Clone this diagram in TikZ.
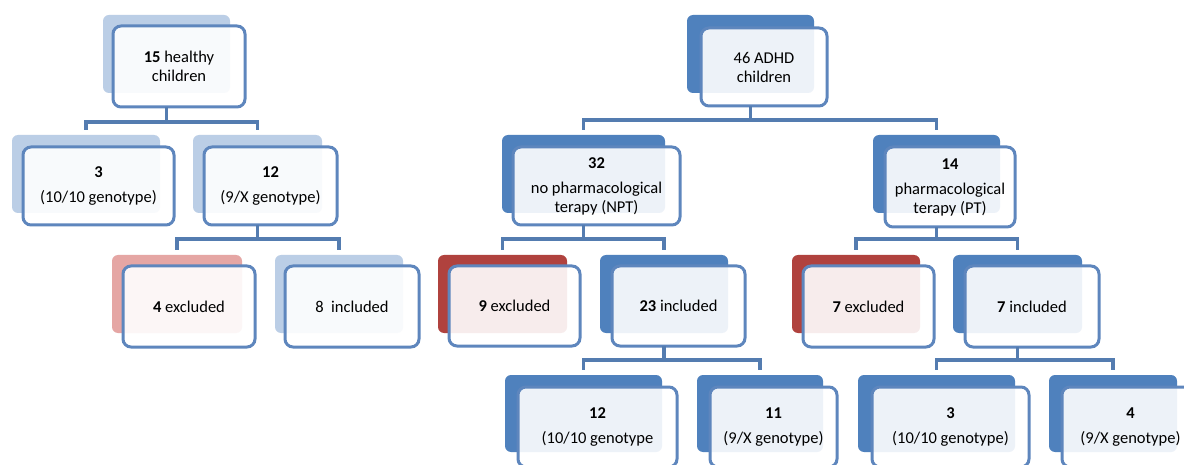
\documentclass[tikz,border=0pt]{standalone}
\usepackage{fontspec}
\setmainfont{Carlito}
\usepackage{tikz}

\definecolor{frameblue}{RGB}{94,134,189}
\definecolor{linkblue}{RGB}{84,124,176}
\definecolor{darkblue}{RGB}{79,129,189}
\definecolor{paleblue}{RGB}{187,206,230}
\definecolor{darkred}{RGB}{176,66,62}
\definecolor{palered}{RGB}{229,166,164}

\tikzset{
  backbox/.style={rounded corners=6pt, inner sep=0pt, outer sep=0pt, anchor=north west},
  frontbox/.style={rounded corners=8pt, draw=frameblue, line width=3pt, fill=white,
    fill opacity=0.9, text opacity=1, align=center, inner sep=0pt, outer sep=0pt,
    anchor=north west, font=\fontsize{16.5}{19}\selectfont},
  link/.style={draw=linkblue, line width=3.5pt}
}

\begin{document}
\begin{tikzpicture}[x=1pt, y=-1pt]
\useasboundingbox (0,0) rectangle (1184,465);
\clip (0,0) rectangle (1184,465);
\fill[white] (0,0) rectangle (1184,465);

% healthy children
\node[backbox, fill=paleblue, minimum width=127, minimum height=78] (healthybk) at (103,15) {};
\node[frontbox, minimum width=132, minimum height=81] (healthy) at (113,26) {\textbf{15} healthy\\children};
\node[backbox, fill=paleblue, minimum width=148, minimum height=78] (gAbk) at (12,135) {};
\node[frontbox, minimum width=151, minimum height=78] (gA) at (23,147) {\textbf{3}\\[6pt](10/10 genotype)};
\node[backbox, fill=paleblue, minimum width=129, minimum height=78] (gBbk) at (193,135) {};
\node[frontbox, minimum width=133, minimum height=78] (gB) at (204,147) {\textbf{12}\\[6pt](9/X genotype)};
\node[backbox, fill=palered, minimum width=130, minimum height=78] (hexcbk) at (112,255) {};
\node[frontbox, minimum width=132, minimum height=81] (hexc) at (123,266) {\textbf{4} excluded};
\node[backbox, fill=paleblue, minimum width=128, minimum height=78] (hincbk) at (275,255) {};
\node[frontbox, minimum width=134, minimum height=81] (hinc) at (285,266) {8\ \ included};

% ADHD children
\node[backbox, fill=darkblue, minimum width=127, minimum height=78] (adhdbk) at (687,15) {};
\node[frontbox, minimum width=126, minimum height=78] (adhd) at (701,28) {46 ADHD\\children};
\node[backbox, fill=darkblue, minimum width=163, minimum height=78] (nptbk) at (502,135) {};
\node[frontbox, minimum width=167, minimum height=78] (npt) at (513,147) {\textbf{32}\\[6pt]no pharmacological\\terapy (NPT)};
\node[backbox, fill=darkblue, minimum width=127, minimum height=78] (ptbk) at (873,135) {};
\node[frontbox, minimum width=130, minimum height=80] (pt) at (885,147) {\textbf{14}\\[6pt]pharmacological\\terapy (PT)};

\node[backbox, fill=darkred, minimum width=129, minimum height=78] (nexcbk) at (438,255) {};
\node[frontbox, minimum width=131, minimum height=80] (nexc) at (449,266) {\textbf{9} excluded};
\node[backbox, fill=darkblue, minimum width=128, minimum height=78] (nincbk) at (600,255) {};
\node[frontbox, minimum width=133, minimum height=80] (ninc) at (612,266) {\textbf{23} included};
\node[backbox, fill=darkred, minimum width=128, minimum height=78] (pexcbk) at (792,255) {};
\node[frontbox, minimum width=131, minimum height=81] (pexc) at (803,266) {\textbf{7} excluded};
\node[backbox, fill=darkblue, minimum width=129, minimum height=78] (pincbk) at (953,255) {};
\node[frontbox, minimum width=134, minimum height=81] (pinc) at (965,266) {\textbf{7} included};

\node[backbox, fill=darkblue, minimum width=157, minimum height=77] (nAbk) at (505,375) {};
\node[frontbox, minimum width=159, minimum height=80] (nA) at (518,387) {\textbf{12}\\[6pt](10/10 genotype};
\node[backbox, fill=darkblue, minimum width=126, minimum height=77] (nBbk) at (697,375) {};
\node[frontbox, minimum width=127, minimum height=80] (nB) at (710,387) {\textbf{11}\\[6pt](9/X genotype)};
\node[backbox, fill=darkblue, minimum width=157, minimum height=77] (pAbk) at (858,375) {};
\node[frontbox, minimum width=157, minimum height=80] (pA) at (872,387) {\textbf{3}\\[6pt](10/10 genotype)};
\node[backbox, fill=darkblue, minimum width=128, minimum height=77] (pBbk) at (1049,375) {};
\node[frontbox, minimum width=137, minimum height=80] (pB) at (1062,387) {\textbf{4}\\[6pt](9/X genotype)};

% connectors
\draw[link] (healthy.south -| healthybk.south) -- ++(0,15) -| ([yshift=5pt]gAbk.north);
\draw[link] (healthy.south -| healthybk.south) ++(0,15) -| ([yshift=5pt]gBbk.north);
\draw[link] (gB.south -| gBbk.south) -- ++(0,14) -| ([yshift=5pt]hexcbk.north);
\draw[link] (gB.south -| gBbk.south) ++(0,14) -| ([yshift=5pt]hincbk.north);
\draw[link] (adhd.south -| adhdbk.south) -- ++(0,14) -| ([yshift=5pt]nptbk.north);
\draw[link] (adhd.south -| adhdbk.south) ++(0,14) -| ([yshift=5pt]ptbk.north);
\draw[link] (npt.south -| nptbk.south) -- ++(0,14) -| ([yshift=5pt]nexcbk.north);
\draw[link] (npt.south -| nptbk.south) ++(0,14) -| ([yshift=5pt]nincbk.north);
\draw[link] (pt.south -| ptbk.south) -- ++(0,12) -| ([yshift=5pt]pexcbk.north);
\draw[link] (pt.south -| ptbk.south) ++(0,12) -| ([yshift=5pt]pincbk.north);
\draw[link] (ninc.south -| nincbk.south) -- ++(0,14) -| ([yshift=5pt]nAbk.north);
\draw[link] (ninc.south -| nincbk.south) ++(0,14) -| ([yshift=5pt]nBbk.north);
\draw[link] (pinc.south -| pincbk.south) -- ++(0,13) -| ([yshift=5pt]pAbk.north);
\draw[link] (pinc.south -| pincbk.south) ++(0,13) -| ([yshift=5pt]pBbk.north);
\end{tikzpicture}
\end{document}
